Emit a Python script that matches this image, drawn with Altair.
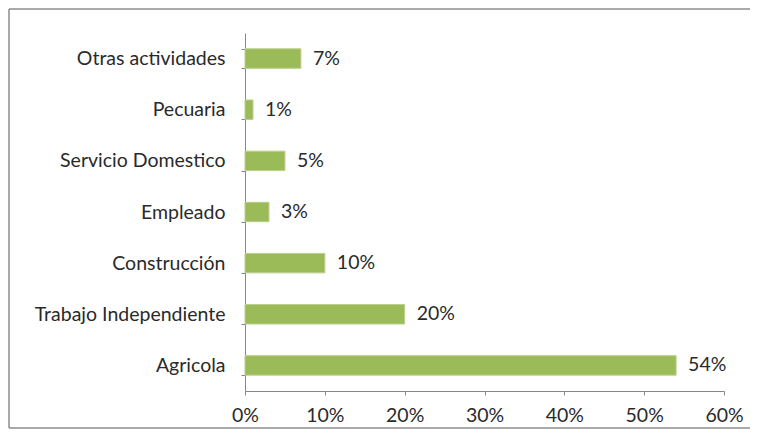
import altair as alt
import pandas as pd

categories = ["Otras actividades", "Pecuaria", "Servicio Domestico", "Empleado",
              "Construcción", "Trabajo Independiente", "Agricola"]
values = [7, 1, 5, 3, 10, 20, 54]
labels = ["7%", "1%", "5%", "3%", "10%", "20%", "54%"]

df = pd.DataFrame({"cat": categories, "val": [v / 100 for v in values], "lab": labels})

FONT = "Lato"
FS = 19.5
TXT = "#2a2a2a"

y_enc = alt.Y("cat:N", sort=categories, title=None,
              scale=alt.Scale(paddingInner=0.62, paddingOuter=0.31),
              axis=alt.Axis(labelFont=FONT, labelFontSize=FS, labelColor=TXT,
                            labelPadding=16, labelLimit=400, tickSize=4,
                            tickColor="#868686", domainColor="#868686",
                            tickBand="extent"))
x_enc = alt.X("val:Q", title=None,
              scale=alt.Scale(domain=[0, 0.6], nice=False),
              axis=alt.Axis(format=".0%", values=[0, 0.1, 0.2, 0.3, 0.4, 0.5, 0.6],
                            labelFont=FONT, labelFontSize=FS, labelColor=TXT,
                            labelFlush=False, labelPadding=11, tickSize=4,
                            tickColor="#868686", domainColor="#868686", grid=False))

bars = alt.Chart(df).mark_bar(color="#9bbb59", stroke="#b9cf8a", strokeWidth=1).encode(
    x=x_enc, y=y_enc)

text = alt.Chart(df).mark_text(align="left", baseline="middle", dx=12,
                               font=FONT, fontSize=FS, color=TXT).encode(
    x="val:Q", y=alt.Y("cat:N", sort=categories), text="lab:N")

one = pd.DataFrame({"a": [0]})
frame_style = dict(stroke="#8c8c8c", strokeWidth=1.5)
frame_top = alt.Chart(one).mark_rule(**frame_style).encode(
    x=alt.value(-236), x2=alt.value(520), y=alt.value(-24))
frame_left = alt.Chart(one).mark_rule(**frame_style).encode(
    x=alt.value(-236), y=alt.value(-24), y2=alt.value(395))
frame_bottom = alt.Chart(one).mark_rule(**frame_style).encode(
    x=alt.value(-236), x2=alt.value(520), y=alt.value(395))

chart = alt.layer(frame_top, frame_left, frame_bottom, bars, text).properties(
    width=479, height=358,
    autosize=alt.AutoSizeParams(type="none"),
    padding={"left": 237, "top": 25, "right": 26, "bottom": 38},
).configure(background="white").configure_view(strokeWidth=0, stroke=None)

chart.save("out.html", embed_options={"renderer": "svg", "actions": False})
